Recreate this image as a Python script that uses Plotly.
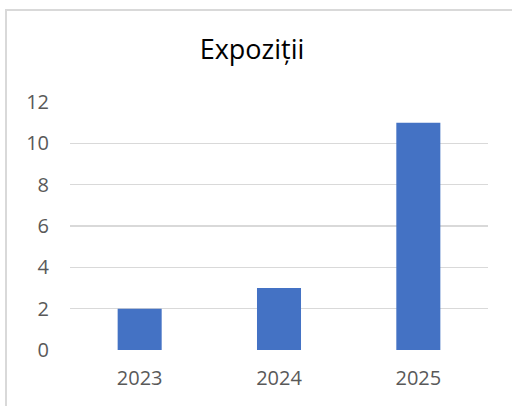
import plotly.graph_objects as go

years = ["2023", "2024", "2025"]
values = [2, 3, 11]
y_ticks = [0, 2, 4, 6, 8, 10, 12]
title_text = "Expoziții"

W, H = 512, 406
L, R, T, B = 70, 24, 102, 56
pw, ph = W - L - R, H - T - B

def px_x(x):
    return (x - L) / pw

def px_y(y):
    return (H - B - y) / ph

fig = go.Figure(go.Bar(x=years, y=values, marker=dict(color="#4472C4", line=dict(width=0)),
                       hoverinfo="skip"))

fig.update_layout(
    width=W, height=H,
    margin=dict(l=L, r=R, t=T, b=B),
    paper_bgcolor="white", plot_bgcolor="white",
    bargap=0.684,
    showlegend=False,
    font=dict(family="Open Sans", color="#595959"),
    title=dict(text=title_text, x=252 / W, xref="container", xanchor="center",
               y=1 - 50 / H, yref="container", yanchor="middle",
               font=dict(family="Open Sans", size=27, color="#000000")),
    shapes=[dict(type="rect", xref="paper", yref="paper",
                 x0=px_x(6), x1=px_x(530), y0=px_y(430), y1=px_y(10),
                 line=dict(color="#d9d9d9", width=2), fillcolor="rgba(0,0,0,0)", layer="below")],
)
fig.update_xaxes(showgrid=False, zeroline=False, showline=False, ticks="",
                 tickfont=dict(size=20, color="#595959"), ticklabelstandoff=14)
fig.update_yaxes(range=[0, 12], tickvals=y_ticks, showgrid=True, gridcolor="#d9d9d9", gridwidth=1.3,
                 zeroline=False, showline=False, ticks="",
                 tickfont=dict(size=20, color="#595959"), ticklabelstandoff=20)

fig.write_html("out.html", config={"displayModeBar": False, "staticPlot": True},
               post_script="document.body.style.margin='0';document.body.style.overflow='hidden';")
